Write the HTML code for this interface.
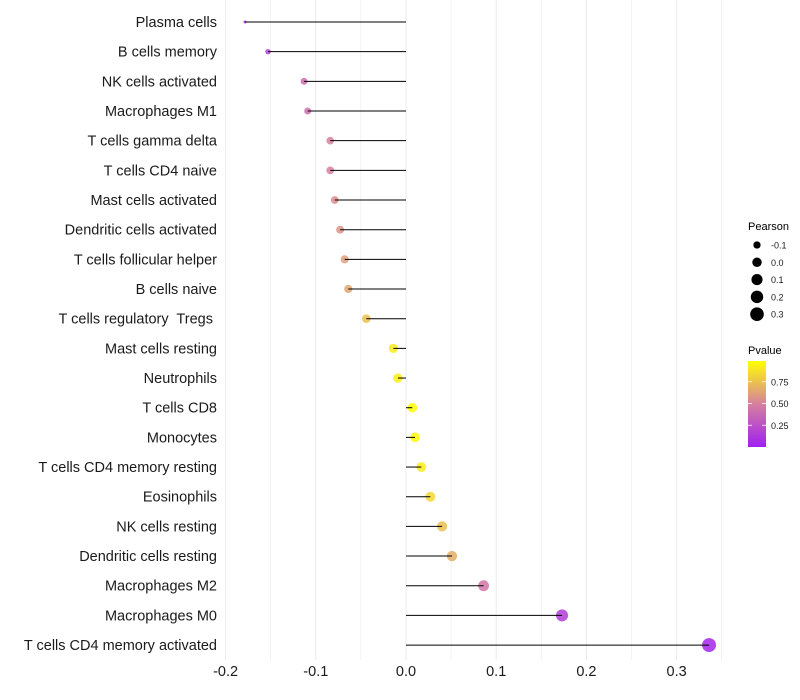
<!DOCTYPE html>
<html><head><meta charset="utf-8"><style>
body{margin:0;background:#fff;}
svg{display:block;font-family:"Liberation Sans",Arial,sans-serif;}
text{white-space:pre;}
</style></head><body>
<svg id="chart" width="800" height="700">
<g id="grid"></g>
<g id="marks"></g>
<g id="ylab"></g>
<g id="xlab"></g>
<g id="legend"></g>
</svg>
<script>
const categories=["Plasma cells","B cells memory","NK cells activated","Macrophages M1","T cells gamma delta","T cells CD4 naive","Mast cells activated","Dendritic cells activated","T cells follicular helper","B cells naive","T cells regulatory  Tregs ","Mast cells resting","Neutrophils","T cells CD8","Monocytes","T cells CD4 memory resting","Eosinophils","NK cells resting","Dendritic cells resting","Macrophages M2","Macrophages M0","T cells CD4 memory activated"];
const pearson=[-0.1785,-0.153,-0.113,-0.109,-0.084,-0.084,-0.079,-0.073,-0.068,-0.064,-0.044,-0.014,-0.009,0.007,0.010,0.017,0.027,0.040,0.051,0.086,0.173,0.336];
const pvalue=[0.08,0.18,0.4,0.42,0.5,0.5,0.55,0.58,0.62,0.65,0.75,0.92,0.94,0.99,0.97,0.93,0.85,0.75,0.68,0.45,0.15,0.03];
const xTicks=[-0.2,-0.1,0.0,0.1,0.2,0.3];
const sizeLegend=[-0.1,0.0,0.1,0.2,0.3];
const pTicks=[0.25,0.5,0.75];
const NS='http://www.w3.org/2000/svg';
const x=v=>406+v*902;
const y=i=>22+i*29.67;
const rad=v=>1.5+5.5*Math.sqrt(Math.max(0,(v+0.1785)/0.5145));
function lerp(a,b,t){return a.map((c,k)=>Math.round(c+(b[k]-c)*t));}
function col(p){
  const s=[[0,[160,32,240]],[0.5,[214,128,160]],[1,[255,255,0]]];
  p=Math.max(0,Math.min(1,p));
  const j=p<0.5?0:1;const t=(p-s[j][0])/0.5;
  const c=lerp(s[j][1],s[j+1][1],t);return `rgb(${c[0]},${c[1]},${c[2]})`;
}
function mk(tag,attrs,parent){const e=document.createElementNS(NS,tag);for(const k in attrs)e.setAttribute(k,attrs[k]);parent.appendChild(e);return e;}
const grid=document.getElementById('grid');
for(let k=0;k<=11;k++){
  const v=-0.2+k*0.05;
  const l=mk('line',{x1:x(v),x2:x(v),y1:0,y2:660,stroke:'#ebebeb','stroke-width':k%2==0?1:0.6},grid);
  
  
}
const marks=document.getElementById('marks');
const ylab=document.getElementById('ylab');
categories.forEach((c,i)=>{
  const cc=mk('circle',{cx:x(pearson[i]),cy:y(i),r:rad(pearson[i]),fill:col(pvalue[i]),'fill-opacity':0.85},marks);
  
  
  const ln=mk('line',{x1:x(0),x2:x(pearson[i]),y1:y(i),y2:y(i),stroke:'#000','stroke-width':1},marks);
  
  
  const t=mk('text',{x:217,y:y(i)+5,'text-anchor':'end','font-size':14.5,fill:'#1a1a1a'},ylab);
  t.textContent=c;
  
  
});
const xlab=document.getElementById('xlab');
xTicks.forEach(v=>{
  const t=mk('text',{x:x(v),y:676,'text-anchor':'middle','font-size':14.5,fill:'#1a1a1a'},xlab);
  t.textContent=v===0?'0.0':String(v);
  
  
});
const lg=document.getElementById('legend');
const t1=mk('text',{x:748,y:230,'font-size':11,fill:'#000'},lg);t1.textContent='Pearson';


sizeLegend.forEach((v,k)=>{
  const cy=245+k*17.3;
  const c=mk('circle',{cx:757,cy:cy,r:rad(v),fill:'#000'},lg);
  
  
  const t=mk('text',{x:771,y:cy+3.5,'font-size':9,fill:'#1a1a1a'},lg);t.textContent=v===0?'0.0':String(v);
  
  
});
const t2=mk('text',{x:748,y:354,'font-size':11,fill:'#000'},lg);t2.textContent='Pvalue';


const defs=mk('defs',{},lg);
const gr=mk('linearGradient',{id:'pg',x1:0,y1:1,x2:0,y2:0},defs);
for(let s=0;s<=10;s++){mk('stop',{offset:s/10,'stop-color':col(s/10)},gr);}
const bar=mk('rect',{x:748,y:361,width:18,height:86,fill:'url(#pg)'},lg);


pTicks.forEach(p=>{
  const cy=447-p*87;
  mk('line',{x1:748,x2:752,y1:cy,y2:cy,stroke:'#fff','stroke-width':0.8},lg);
  mk('line',{x1:762,x2:766,y1:cy,y2:cy,stroke:'#fff','stroke-width':0.8},lg);
  const t=mk('text',{x:771,y:cy+3.5,'font-size':9,fill:'#1a1a1a'},lg);t.textContent=p.toFixed(2);
  
  
});
</script>
</body></html>
